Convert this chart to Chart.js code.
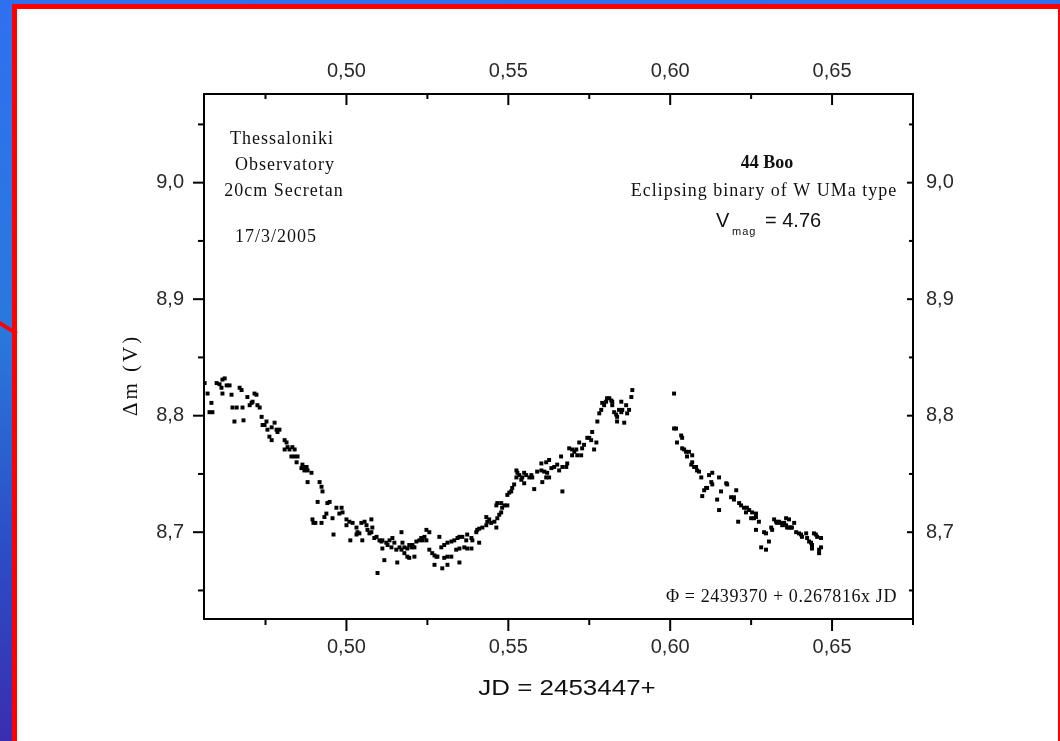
<!DOCTYPE html>
<html>
<head>
<meta charset="utf-8">
<script src="https://cdn.jsdelivr.net/npm/chart.js@4/dist/chart.umd.min.js"></script>
<style>
  html, body { margin: 0; padding: 0; }
  body {
    width: 1060px; height: 741px; overflow: hidden; position: relative;
    background: linear-gradient(to bottom, #2f70f0 0%, #2a78dc 45%, #2c4cc4 75%, #3a2eb0 100%);
  }
  #panel {
    position: absolute; left: 12px; top: 4px; width: 1041px; height: 760px;
    border: 5px solid #ff0000; background: #fff;
  }
  #slash {
    position: absolute; left: -2px; top: 320px; width: 22px; height: 4px;
    background: #ff0000; transform: rotate(32deg); transform-origin: left center;
  }
  #wrap { position: absolute; left: 0; top: 0; width: 1060px; height: 741px; }
</style>
</head>
<body>
<div id="panel"></div>
<div id="slash"></div>
<div id="wrap"><canvas id="lc" width="1060" height="741"></canvas></div>
<script>
// JD - 2453447, first run of observations (before the gap)
var jdA = [0.4562,0.4571,0.4577,0.4583,0.4586,0.4599,0.4608,0.4614,0.4617,0.4617,0.4624,0.4630,0.4639,0.4645,0.4648,0.4654,0.4661,0.4670,0.4676,0.4679,
  0.4682,0.4694,0.4701,0.4707,0.4710,0.4716,0.4722,0.4725,0.4732,0.4738,0.4741,0.4747,0.4753,0.4756,0.4762,0.4769,0.4769,0.4778,0.4784,0.4787,
  0.4793,0.4809,0.4809,0.4815,0.4818,0.4824,0.4830,0.4833,0.4840,0.4840,0.4846,0.4849,0.4861,0.4864,0.4870,0.4870,0.4877,0.4880,0.4880,0.4892,
  0.4895,0.4898,0.4904,0.4911,0.4917,0.4923,0.4923,0.4926,0.4932,0.4938,0.4941,0.4948,0.4957,0.4960,0.4969,0.4978,0.4985,0.4988,0.5000,0.5000,
  0.5009,0.5012,0.5019,0.5031,0.5031,0.5034,0.5040,0.5046,0.5049,0.5056,0.5062,0.5065,0.5071,0.5077,0.5077,0.5080,0.5086,0.5093,0.5096,0.5102,
  0.5108,0.5111,0.5111,0.5117,0.5123,0.5127,0.5133,0.5139,0.5142,0.5148,0.5154,0.5157,0.5164,0.5170,0.5170,0.5173,0.5179,0.5179,0.5188,0.5188,
  0.5194,0.5194,0.5201,0.5204,0.5210,0.5210,0.5216,0.5225,0.5231,0.5235,0.5241,0.5247,0.5247,0.5256,0.5256,0.5265,0.5272,0.5272,0.5278,0.5281,
  0.5287,0.5293,0.5296,0.5302,0.5302,0.5312,0.5312,0.5312,0.5324,0.5324,0.5333,0.5339,0.5343,0.5349,0.5349,0.5349,0.5358,0.5364,0.5370,0.5373,
  0.5373,0.5386,0.5386,0.5389,0.5401,0.5404,0.5410,0.5410,0.5420,0.5432,0.5432,0.5435,0.5441,0.5447,0.5457,0.5463,0.5463,0.5466,0.5466,0.5472,
  0.5478,0.5478,0.5481,0.5488,0.5497,0.5497,0.5503,0.5509,0.5512,0.5518,0.5525,0.5525,0.5528,0.5534,0.5540,0.5543,0.5549,0.5549,0.5555,0.5565,
  0.5571,0.5574,0.5580,0.5589,0.5602,0.5602,0.5605,0.5611,0.5617,0.5617,0.5620,0.5626,0.5626,0.5633,0.5642,0.5651,0.5657,0.5663,0.5667,0.5667,
  0.5679,0.5682,0.5688,0.5697,0.5697,0.5704,0.5710,0.5713,0.5719,0.5725,0.5728,0.5734,0.5744,0.5750,0.5756,0.5759,0.5765,0.5772,0.5775,0.5781,
  0.5787,0.5790,0.5796,0.5802,0.5805,0.5812,0.5818,0.5821,0.5821,0.5827,0.5833,0.5836,0.5836,0.5842,0.5849,0.5849,0.5852,0.5858,0.5864,0.5867,
  0.5873,0.5880,0.5883];
var dmA = [8.828,8.819,8.803,8.811,8.803,8.828,8.827,8.824,8.831,8.819,8.832,8.826,8.826,8.818,8.807,8.795,8.807,8.824,8.822,8.807,
  8.796,8.816,8.809,8.811,8.812,8.819,8.818,8.809,8.807,8.799,8.792,8.792,8.795,8.788,8.782,8.779,8.790,8.794,8.788,8.786,
  8.788,8.779,8.771,8.777,8.773,8.771,8.765,8.773,8.771,8.765,8.760,8.765,8.755,8.758,8.756,8.753,8.756,8.753,8.743,8.751,
  8.711,8.708,8.708,8.726,8.743,8.739,8.708,8.735,8.713,8.716,8.725,8.726,8.712,8.698,8.721,8.716,8.721,8.717,8.711,8.706,
  8.709,8.693,8.708,8.704,8.698,8.700,8.699,8.708,8.693,8.709,8.706,8.702,8.699,8.711,8.700,8.704,8.695,8.696,8.665,8.693,
  8.692,8.693,8.686,8.676,8.691,8.689,8.693,8.687,8.695,8.691,8.685,8.674,8.687,8.685,8.700,8.691,8.687,8.682,8.686,8.679,
  8.689,8.678,8.687,8.689,8.687,8.679,8.692,8.693,8.695,8.693,8.696,8.693,8.702,8.700,8.685,8.682,8.680,8.672,8.679,8.679,
  8.696,8.687,8.669,8.689,8.678,8.691,8.679,8.672,8.692,8.679,8.693,8.685,8.695,8.696,8.686,8.674,8.696,8.687,8.693,8.686,
  8.698,8.686,8.695,8.693,8.700,8.702,8.703,8.691,8.704,8.706,8.713,8.709,8.711,8.708,8.709,8.704,8.723,8.712,8.725,8.715,
  8.717,8.725,8.721,8.723,8.723,8.732,8.734,8.735,8.738,8.741,8.753,8.747,8.751,8.749,8.745,8.747,8.751,8.742,8.749,8.747,
  8.749,8.747,8.737,8.752,8.753,8.759,8.743,8.752,8.747,8.760,8.751,8.747,8.762,8.755,8.756,8.758,8.753,8.765,8.756,8.735,
  8.756,8.759,8.772,8.771,8.766,8.769,8.771,8.766,8.777,8.766,8.772,8.775,8.781,8.781,8.779,8.786,8.771,8.777,8.795,8.802,
  8.805,8.811,8.809,8.812,8.815,8.815,8.813,8.812,8.809,8.803,8.801,8.799,8.795,8.805,8.803,8.812,8.805,8.794,8.809,8.802,
  8.805,8.816,8.822];

// second run (after the gap)
var jdB = [0.6012,0.6012,0.6018,0.6021,0.6034,0.6037,0.6037,0.6043,0.6049,0.6052,0.6058,0.6065,0.6068,0.6068,0.6074,0.6080,0.6083,0.6089,0.6096,0.6099,
  0.6105,0.6111,0.6114,0.6120,0.6127,0.6130,0.6130,0.6145,0.6151,0.6151,0.6157,0.6173,0.6176,0.6188,0.6197,0.6197,0.6204,0.6210,0.6213,0.6219,
  0.6228,0.6234,0.6237,0.6244,0.6250,0.6253,0.6259,0.6265,0.6265,0.6265,0.6274,0.6281,0.6290,0.6296,0.6296,0.6305,0.6312,0.6315,0.6321,0.6327,
  0.6330,0.6336,0.6342,0.6346,0.6352,0.6358,0.6358,0.6361,0.6367,0.6367,0.6373,0.6376,0.6383,0.6389,0.6398,0.6404,0.6407,0.6420,0.6423,0.6429,
  0.6435,0.6438,0.6438,0.6444,0.6450,0.6454,0.6460,0.6460,0.6466,0.6466];
var dmB = [8.819,8.789,8.789,8.777,8.783,8.781,8.772,8.771,8.769,8.765,8.769,8.758,8.766,8.760,8.756,8.756,8.753,8.752,8.747,8.731,
  8.736,8.738,8.738,8.749,8.743,8.751,8.741,8.728,8.747,8.719,8.735,8.742,8.741,8.730,8.730,8.728,8.736,8.709,8.725,8.723,
  8.721,8.717,8.721,8.719,8.712,8.717,8.712,8.716,8.713,8.702,8.709,8.687,8.700,8.685,8.699,8.692,8.704,8.702,8.711,8.709,
  8.708,8.709,8.708,8.706,8.708,8.706,8.712,8.704,8.704,8.711,8.704,8.704,8.708,8.700,8.699,8.698,8.696,8.699,8.695,8.692,
  8.691,8.689,8.686,8.699,8.698,8.696,8.685,8.682,8.695,8.687];

// tick values and labels
var xTicks = [0.475, 0.500, 0.525, 0.550, 0.575, 0.600, 0.625, 0.650, 0.675];
var xMajor = [0.50, 0.55, 0.60, 0.65];
var xLabels = ['0,50', '0,55', '0,60', '0,65'];
var yTicks = [8.65, 8.70, 8.75, 8.80, 8.85, 8.90, 8.95, 9.00, 9.05];
var yMajor = [8.7, 8.8, 8.9, 9.0];
var yLabels = ['8,7', '8,8', '8,9', '9,0'];

var xMin = 0.456, xMax = 0.675;
var yMin = 8.6255, yMax = 9.0761;

function pts(xs, ys) {
  return xs.map(function (x, i) { return { x: x, y: ys[i] }; });
}
function labelFor(v, majors, labels) {
  for (var i = 0; i < majors.length; i++) {
    if (Math.abs(majors[i] - v) < 1e-6) return labels[i];
  }
  return '';
}
function isMajor(v, majors) {
  return majors.some(function (m) { return Math.abs(m - v) < 1e-6; });
}

var tickFont = { family: '"Liberation Sans", Arial, sans-serif', size: 20 };

function axis(pos, min, max, list, majors, labels, size, pad) {
  return {
    type: 'linear', position: pos, min: min, max: max,
    grid: { display: false },
    border: { display: true, color: '#000', width: 2 },
    ticks: {
      color: '#2a2a2a', font: tickFont, padding: pad, maxRotation: 0, autoSkip: false,
      callback: function (v) { return labelFor(v, majors, labels); }
    },
    afterBuildTicks: function (s) { s.ticks = list.map(function (v) { return { value: v }; }); },
    afterFit: function (s) {
      if (pos === 'left' || pos === 'right') s.width = size; else s.height = size;
    }
  };
}

// tick marks (major and minor) and the text on the plot
var frame = {
  id: 'frame',
  afterDraw: function (chart) {
    var ctx = chart.ctx, s = chart.scales, a = chart.chartArea;
    ctx.save();
    ctx.strokeStyle = '#000';
    ctx.lineWidth = 2;
    function seg(x1, y1, x2, y2) { ctx.beginPath(); ctx.moveTo(x1, y1); ctx.lineTo(x2, y2); ctx.stroke(); }
    xTicks.forEach(function (v) {
      var px = s.x.getPixelForValue(v), big = isMajor(v, xMajor);
      seg(px, a.bottom, px, a.bottom + (big ? 12 : 6));
      seg(px, a.top, px, a.top + (big ? 11 : 5));
    });
    yTicks.forEach(function (v) {
      var py = s.y.getPixelForValue(v), big = isMajor(v, yMajor);
      seg(a.left, py, a.left - (big ? 11 : 6), py);
      seg(a.right, py, a.right - (big ? 6 : 4), py);
    });

    ctx.fillStyle = '#111';
    ctx.textBaseline = 'alphabetic';
    var serif = '"Liberation Serif", "Times New Roman", serif';
    ctx.textAlign = 'center';
    ctx.font = '18px ' + serif;
    ctx.letterSpacing = '1px';
    ctx.fillText('Thessaloniki', 282, 144);
    ctx.fillText('Observatory', 285, 170);
    ctx.fillText('20cm Secretan', 284, 196);
    ctx.fillText('17/3/2005', 276, 242);

    ctx.font = 'bold 18px ' + serif;
    ctx.letterSpacing = '0px';
    ctx.fillText('44 Boo', 767, 168);
    ctx.font = '18px ' + serif;
    ctx.letterSpacing = '1px';
    ctx.fillText('Eclipsing binary of W UMa type', 764, 196);

    ctx.textAlign = 'left';
    ctx.letterSpacing = '0px';
    var sans = '"Liberation Sans", Arial, sans-serif';
    ctx.font = '20px ' + sans;
    ctx.fillText('V', 716, 227);
    ctx.font = '11px ' + sans;
    ctx.letterSpacing = '1px';
    ctx.fillText('mag', 732, 235);
    ctx.letterSpacing = '0px';
    ctx.font = '20px ' + sans;
    ctx.fillText('= 4.76', 765, 227);

    ctx.textAlign = 'right';
    ctx.font = '18px ' + serif;
    ctx.letterSpacing = '0.6px';
    ctx.fillText('\u03A6 = 2439370 + 0.267816x JD', 897, 602);

    // axis titles
    ctx.letterSpacing = '0px';
    ctx.save();
    ctx.translate(567, 695);
    ctx.scale(1.18, 1);
    ctx.textAlign = 'center';
    ctx.font = '22px ' + sans;
    ctx.fillText('JD = 2453447+', 0, 0);
    ctx.restore();

    ctx.save();
    ctx.translate(137, 375);
    ctx.rotate(-Math.PI / 2);
    ctx.textAlign = 'center';
    ctx.font = '21px ' + serif;
    ctx.letterSpacing = '3px';
    ctx.fillText('\u0394m (V)', 0, 0);
    ctx.restore();

    ctx.restore();
  }
};

new Chart(document.getElementById('lc'), {
  type: 'scatter',
  data: {
    datasets: [
      { label: 'run 1', data: pts(jdA, dmA), xAxisID: 'x', yAxisID: 'y' },
      { label: 'run 2', data: pts(jdB, dmB), xAxisID: 'x', yAxisID: 'y' }
    ]
  },
  options: {
    responsive: false,
    animation: false,
    layout: { padding: 0 },
    elements: {
      point: { pointStyle: 'rect', radius: 2.8, backgroundColor: '#000', borderWidth: 0, hoverRadius: 2.8 }
    },
    plugins: { legend: { display: false }, tooltip: { enabled: false } },
    scales: {
      x: axis('bottom', xMin, xMax, xTicks, xMajor, xLabels, 122, 8),
      x2: axis('top', xMin, xMax, xTicks, xMajor, xLabels, 94, 3),
      y: axis('left', yMin, yMax, yTicks, yMajor, yLabels, 204, 12),
      y2: axis('right', yMin, yMax, yTicks, yMajor, yLabels, 147, 5)
    }
  },
  plugins: [frame]
});
</script>
</body>
</html>
